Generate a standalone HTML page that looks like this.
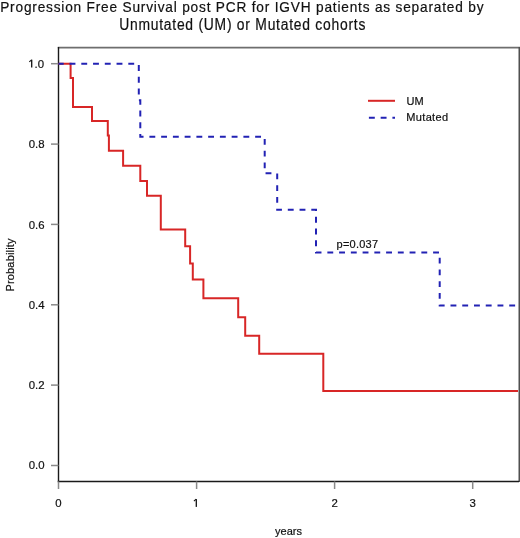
<!DOCTYPE html>
<html><head><meta charset="utf-8"><style>
html,body{margin:0;padding:0;background:#fff;}
svg{display:block;} #w{width:520px;height:538px;overflow:hidden;will-change:transform;}
text{font-family:"Liberation Sans",sans-serif;fill:#111;stroke:#111;stroke-width:0.2px;}
</style></head><body><div id="w">
<svg width="520" height="538" viewBox="0 0 520 538">
<rect x="0" y="0" width="520" height="538" fill="#fff"/>
<g font-size="15.6" style="stroke:none;fill:#1a1a1a">
<text transform="translate(0.2,11.6) scale(0.95,1)" textLength="508.7" font-size="14.4" lengthAdjust="spacing">Progression Free Survival post PCR for IGVH patients as separated by</text>
<text transform="translate(119.2,29.9) scale(0.89,1)" textLength="276.6" lengthAdjust="spacing">Unmutated (UM) or Mutated cohorts</text>
</g>
<line x1="57.8" y1="47.7" x2="520" y2="47.7" stroke="#6e6e6e" stroke-width="1.7"/>
<line x1="519.3" y1="47" x2="519.3" y2="482" stroke="#505050" stroke-width="1.6"/>
<line x1="58.5" y1="47" x2="58.5" y2="482.2" stroke="#1a1a1a" stroke-width="1.4"/>
<line x1="57.8" y1="481.5" x2="519" y2="481.5" stroke="#1a1a1a" stroke-width="1.4"/>
<g stroke="#8a8a8a" stroke-width="1.5"><line x1="51" y1="465.5" x2="58.5" y2="465.5"/><line x1="51" y1="385.1" x2="58.5" y2="385.1"/><line x1="51" y1="304.8" x2="58.5" y2="304.8"/><line x1="51" y1="224.4" x2="58.5" y2="224.4"/><line x1="51" y1="144.1" x2="58.5" y2="144.1"/><line x1="51" y1="63.7" x2="58.5" y2="63.7"/><line x1="58.5" y1="481.5" x2="58.5" y2="489"/><line x1="196.6" y1="481.5" x2="196.6" y2="489"/><line x1="334.6" y1="481.5" x2="334.6" y2="489"/><line x1="472.7" y1="481.5" x2="472.7" y2="489"/></g>
<g font-size="11"><text x="44.5" y="469.2" text-anchor="end" font-size="11.4">0.0</text><text x="44.5" y="389.4" text-anchor="end" font-size="11.4">0.2</text><text x="44.5" y="309.1" text-anchor="end" font-size="11.4">0.4</text><text x="44.5" y="228.7" text-anchor="end" font-size="11.4">0.6</text><text x="44.5" y="148.4" text-anchor="end" font-size="11.4">0.8</text><text x="44.1" y="68.0" text-anchor="end" font-size="11.4">.0</text><rect x="31.05" y="59.7" width="1.3" height="7.8" fill="#111"/><path d="M31.6,59.8 L29.3,61.8" stroke-width="1.1" stroke="#111" fill="none"/><text x="58.5" y="506.9" text-anchor="middle" font-size="11.4">0</text><rect x="195.65" y="499.1" width="1.3" height="7.8" fill="#111"/><path d="M196.2,499.2 L193.9,501.2" stroke-width="1.1" stroke="#111" fill="none"/><text x="334.6" y="506.9" text-anchor="middle" font-size="11.4">2</text><text x="472.7" y="506.9" text-anchor="middle" font-size="11.4">3</text>
<text x="288.5" y="535.3" text-anchor="middle">years</text>
<text transform="translate(13.6,291.6) rotate(-90)" textLength="53.2" lengthAdjust="spacing">Probability</text>
<text x="406.5" y="105.4">UM</text>
<text x="406.3" y="121.1" textLength="41.8" lengthAdjust="spacing">Mutated</text>
<text x="336.6" y="247.5" textLength="41.5" lengthAdjust="spacing">p=0.037</text>
</g>
<polyline points="58.5,63.8 70.6,63.8 70.6,78.1 73.0,78.1 73.0,106.9 92.0,106.9 92.0,121.0 107.8,121.0 107.8,135.4 108.9,135.4 108.9,150.8 123.1,150.8 123.1,165.7 140.3,165.7 140.3,180.9 147.0,180.9 147.0,195.7 160.8,195.7 160.8,229.5 185.2,229.5 185.2,246.2 190.1,246.2 190.1,263.6 192.8,263.6 192.8,279.6 203.4,279.6 203.4,298.2 238.2,298.2 238.2,317.2 245.2,317.2 245.2,335.7 259.2,335.7 259.2,353.8 323.3,353.8 323.3,391.0 518.0,391.0" fill="none" stroke="#d82626" stroke-width="2"/>
<polyline points="58.5,63.8 138.8,63.8 138.8,100.2 140.3,100.2 140.3,136.7 264.7,136.7 264.7,173.3 277.2,173.3 277.2,209.8 316.0,209.8 316.0,252.5 439.7,252.5 439.7,305.6 518.0,305.6" fill="none" stroke="#2222b4" stroke-width="2" stroke-dasharray="5.875 5.875" stroke-dashoffset="0.7"/>
<line x1="368" y1="100.8" x2="395" y2="100.8" stroke="#d82626" stroke-width="2"/>
<line x1="368.9" y1="117.8" x2="395" y2="117.8" stroke="#2222b4" stroke-width="2" stroke-dasharray="5.9 5.85"/>
</svg></div>
</body></html>
